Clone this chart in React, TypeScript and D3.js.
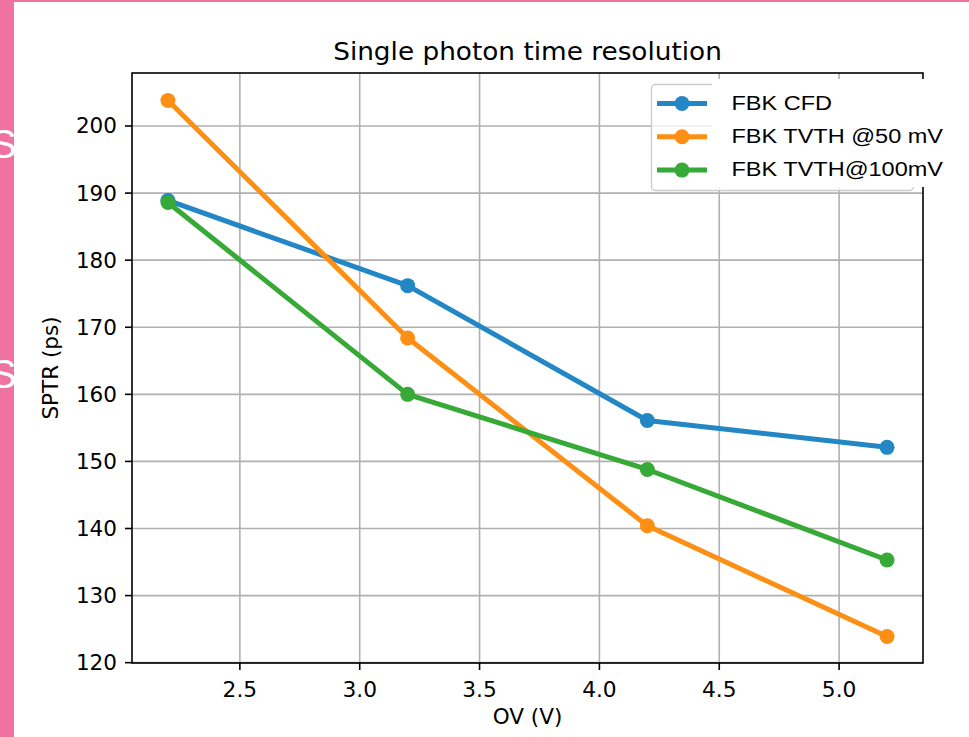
import React from "react";
import * as d3 from "d3";

const overVoltage = [2.2, 3.2, 4.2, 5.2];
const cfd = [188.9, 176.2, 156.1, 152.1];
const tvth50 = [203.8, 168.4, 140.4, 123.9];
const tvth100 = [188.6, 160.0, 148.8, 135.3];
const seriesNames = ["FBK CFD", "FBK TVTH @50 mV", "FBK TVTH@100mV"];
const seriesColors = ["#2387c6", "#fd8f14", "#37a937"];
const xTicks = [2.5, 3.0, 3.5, 4.0, 4.5, 5.0];
const yTicks = [120, 130, 140, 150, 160, 170, 180, 190, 200];

const W = 969;
const H = 737;
const L = 132, R = 923, T = 73, B = 663;

export default function App() {
  const x = d3.scaleLinear().domain([2.05, 5.35]).range([L, R]);
  const y = d3.scaleLinear().domain([119.95, 207.9]).range([B, T]);
  const series = [cfd, tvth50, tvth100];
  const line = d3
    .line<number>()
    .x((_, i) => x(overVoltage[i]))
    .y((d) => y(d));
  const dv = "'DejaVu Sans', sans-serif";
  const lib = "'Liberation Sans', Arial, sans-serif";
  const pink = "#f0739f";

  return (
    <svg width={W} height={H} style={{ position: "absolute", left: 0, top: 0 }}>
      <defs>
        <clipPath id="band">
          <rect x={0} y={0} width={14} height={H} />
        </clipPath>
      </defs>
      <rect x={0} y={0} width={W} height={H} fill="#fff" />
      <rect x={0} y={0} width={14} height={H} fill={pink} />
      <rect x={0} y={0} width={W} height={2} fill={pink} />
      <g clipPath="url(#band)" fill="#fff" fontFamily={lib} fontSize={40}>
        <text x={-10} y={158}>S</text>
        <text x={-10} y={388}>S</text>
      </g>

      {/* grid */}
      <g stroke="#b0b0b0" strokeWidth={1.6}>
        {xTicks.map((t) => (
          <line key={"gx" + t} x1={x(t)} x2={x(t)} y1={T} y2={B} />
        ))}
        {yTicks.map((t) => (
          <line key={"gy" + t} x1={L} x2={R} y1={y(t)} y2={y(t)} />
        ))}
      </g>

      {/* series */}
      {series.map((s, k) => (
        <g key={"s" + k}>
          <path d={line(s) || ""} fill="none" stroke={seriesColors[k]} strokeWidth={5} strokeLinejoin="round" />
          {s.map((v, i) => (
            <circle key={i} cx={x(overVoltage[i])} cy={y(v)} r={7.5} fill={seriesColors[k]} />
          ))}
        </g>
      ))}

      {/* spines */}
      <rect x={L} y={T} width={R - L} height={B - T} fill="none" stroke="#000" strokeWidth={1.6} />

      {/* ticks */}
      <g stroke="#000" strokeWidth={1.6}>
        {xTicks.map((t) => (
          <line key={"tx" + t} x1={x(t)} x2={x(t)} y1={B} y2={B + 7} />
        ))}
        {yTicks.map((t) => (
          <line key={"ty" + t} x1={L - 7} x2={L} y1={y(t)} y2={y(t)} />
        ))}
      </g>
      <g fontFamily={dv} fontSize={20.5} fill="#000">
        {xTicks.map((t) => (
          <g key={"lx" + t} transform={`translate(${x(t)},697) scale(1.06,1)`}>
            <text textAnchor="middle">{t.toFixed(1)}</text>
          </g>
        ))}
        {yTicks.map((t) => (
          <g key={"ly" + t} transform={`translate(117,${y(t) + 7.5}) scale(1.05,1)`}>
            <text textAnchor="end">{t}</text>
          </g>
        ))}
        <g transform={`translate(${(L + R) / 2},724) scale(1.05,1)`}>
          <text textAnchor="middle">OV (V)</text>
        </g>
        <g transform={`translate(58,${(T + B) / 2}) rotate(-90) scale(1.05,1)`}>
          <text textAnchor="middle">SPTR (ps)</text>
        </g>
      </g>
      <g transform={`translate(${(L + R) / 2},60) scale(1.07,1)`}>
        <text textAnchor="middle" fontFamily={dv} fontSize={24.6} fill="#000">
          Single photon time resolution
        </text>
      </g>

      {/* legend */}
      <rect x={651.5} y={84.5} width={262} height={106} rx={4} fill="#fff" fillOpacity={0.8} stroke="#cccccc" strokeWidth={1.4} />
      <rect x={712} y={79} width={240} height={108} fill="#fff" />
      {seriesNames.map((n, k) => {
        const yy = 103.5 + k * 33.3;
        return (
          <g key={"lg" + k}>
            <line x1={657} x2={707} y1={yy} y2={yy} stroke={seriesColors[k]} strokeWidth={5} />
            <circle cx={682} cy={yy} r={7.5} fill={seriesColors[k]} />
            <g transform={`translate(731.5,${yy + 6}) scale(1.12,1)`}>
              <text fontFamily={lib} fontSize={21} fill="#000">{n}</text>
            </g>
          </g>
        );
      })}
    </svg>
  );
}
